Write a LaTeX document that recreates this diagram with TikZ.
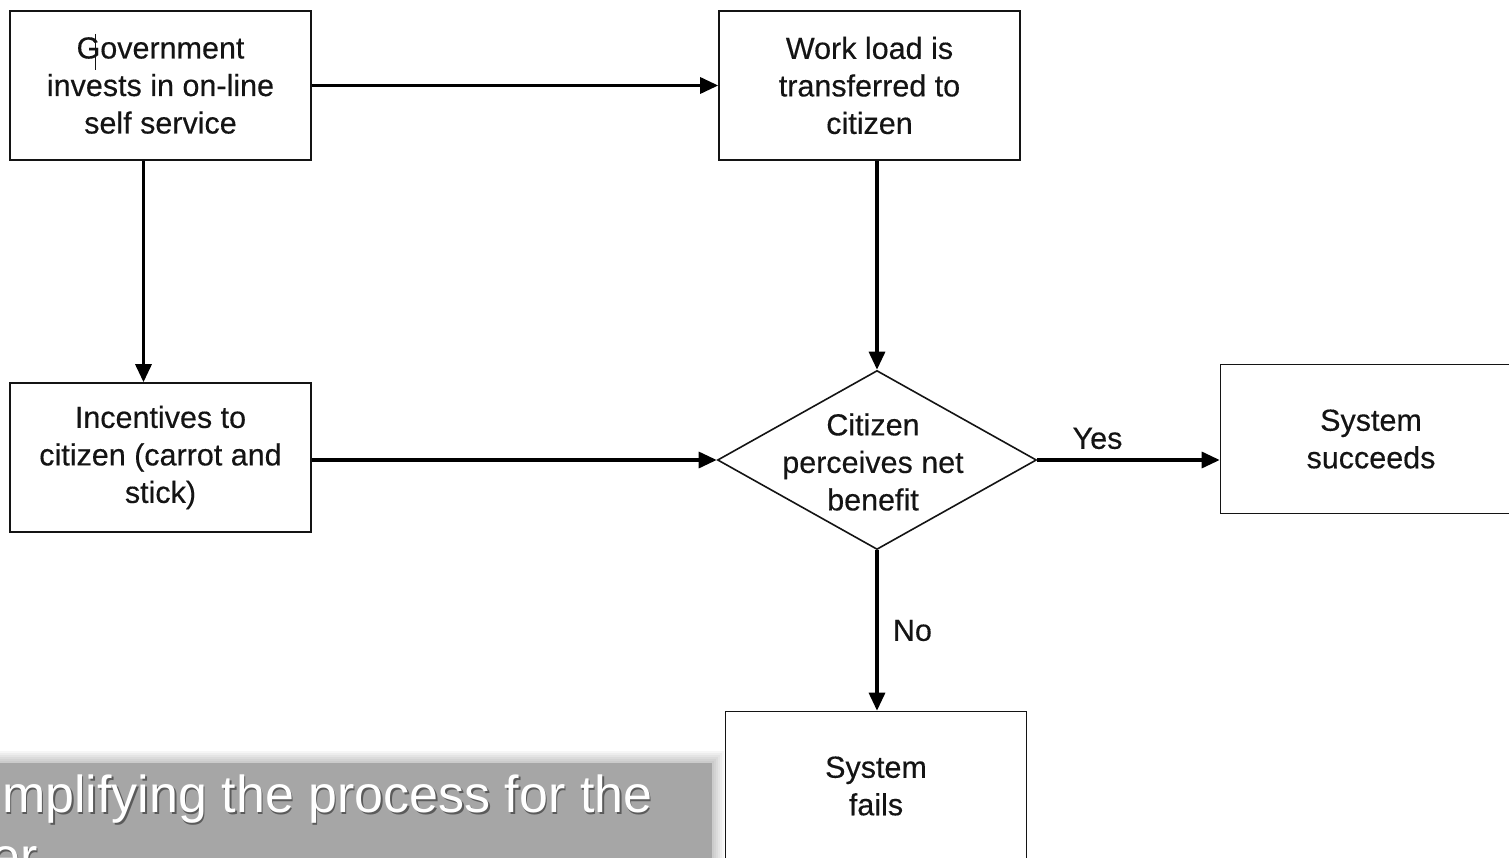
\documentclass[tikz,border=0pt]{standalone}
\usepackage{fontspec}
\setmainfont{Liberation Sans}
\newfontfamily\boxfont{Liberation Sans}[BoldFont={Liberation Sans}, BoldFeatures={FakeBold=0.35}]
\usetikzlibrary{shapes.geometric,arrows.meta}
\definecolor{ink}{HTML}{141414}
\definecolor{panel}{HTML}{A6A6A6}
\begin{document}
\begin{tikzpicture}[x=1pt,y=-1pt,
  boxtxt/.style={font=\boxfont\bfseries\fontsize{30.5}{37.5}\selectfont, text=ink, align=center},
  procbox/.style={draw=ink, line width=1.6pt, minimum width=301pt, minimum height=149pt, inner sep=0pt, boxtxt},
  decision/.style={diamond, draw=ink, line width=1.6pt, minimum width=319pt, minimum height=179pt, inner sep=0pt},
  flow/.style={line width=3.2pt, draw=black, -{Triangle[length=18pt,width=16pt]}},
  lbl/.style={font=\boxfont\bfseries\fontsize{30.5}{37.5}\selectfont, text=ink}
]
\useasboundingbox (0,0) rectangle (1509,858);
\fill[white] (0,0) rectangle (1509,858);
\clip (0,0) rectangle (1509,858);

% nodes
\node[procbox] (gov)  at (160.5,85.5)  {Government\\invests in on-line\\self service};
\node[procbox] (work) at (869.5,85.5)  {Work load is\\transferred to\\citizen};
\node[procbox] (inc)  at (160.5,457.5) {Incentives to\\citizen (carrot and\\stick)};
\node[decision] (dia) at (877,460) {};
\node[boxtxt] (diatxt) at (873,462) {Citizen\\perceives net\\benefit};
\node[procbox] (succ) at (1371,439)    {System\\succeeds};
\node[procbox] (fail) at (876,786)     {System\\fails};

% cursor mark in the first box
\draw[ink, line width=1pt] (95.5,34) -- (95.5,70);

% connectors
\draw[flow] (gov.east) -- (work.west);
\draw[flow] ([xshift=-17pt]gov.south) -- ([xshift=-17pt]inc.north);
\draw[flow] (dia.north |- work.south) -- (dia.north);
\draw[flow] (inc.east |- dia.west) -- (dia.west);
\draw[flow] (dia.east) -- (dia.east -| succ.west)
  node[lbl, pos=0.33, above=6pt] (yes) {Yes};
\draw[flow] (dia.south) -- (dia.south |- fail.north)
  node[lbl, midway, right=11pt] (no) {No};

% grey caption panel with soft shadow
\foreach \s in {12,10,8,6,4,2}{
  \fill[black, opacity=0.035] (-20,763-\s) rectangle (712+\s,900);
}
\fill[panel] (-20,763) rectangle (712,900);
\node[anchor=base west, inner sep=0pt, font=\fontsize{52}{62}\selectfont, text=black, opacity=0.45] at (3.5,814.5) {mplifying the process for the};
\node[anchor=base west, inner sep=0pt, font=\fontsize{52}{62}\selectfont, text=white] (cap1) at (2,812) {mplifying the process for the};
\node[anchor=base west, inner sep=0pt, font=\fontsize{52}{62}\selectfont, text=black, opacity=0.45] at (-7.5,876.5) {er};
\node[anchor=base west, inner sep=0pt, font=\fontsize{52}{62}\selectfont, text=white] (cap2) at (-9,874) {er};
\end{tikzpicture}
\end{document}
